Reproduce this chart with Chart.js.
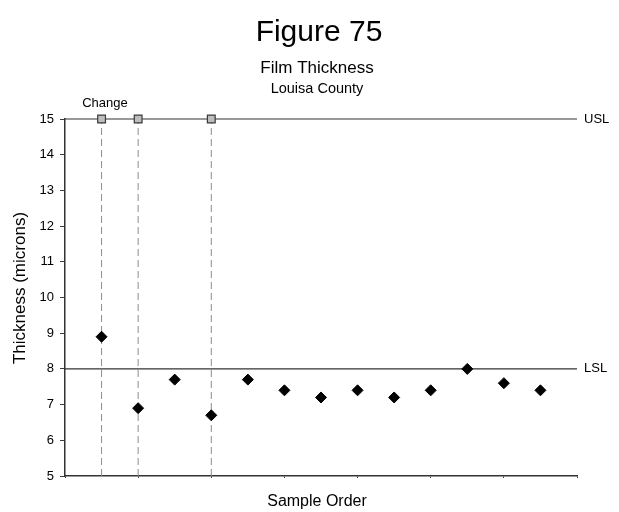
<!DOCTYPE html>
<html>
<head>
<meta charset="utf-8">
<script src="https://cdn.jsdelivr.net/npm/chart.js@4/dist/chart.umd.min.js"></script>
<style>
  html, body { margin: 0; padding: 0; background: #fff; }
  #wrap { width: 619px; height: 512px; }
</style>
</head>
<body>
<div id="wrap"><canvas id="myChart" width="619" height="512"></canvas></div>
<script>
// data
var sampleOrder = [1, 2, 3, 4, 5, 6, 7, 8, 9, 10, 11, 12, 13];
var thickness = [8.9, 6.9, 7.7, 6.7, 7.7, 7.4, 7.2, 7.4, 7.2, 7.4, 8.0, 7.6, 7.4];
var changeAt = [1, 2, 4];
var usl = 15;
var lsl = 8;
var yTicks = [5, 6, 7, 8, 9, 10, 11, 12, 13, 14, 15];

var font = "'Liberation Sans', Arial, sans-serif";

var points = sampleOrder.map(function (x, i) { return { x: x, y: thickness[i] }; });

var datasets = [];
datasets.push({
    type: "scatter",
    label: "Thickness",
    data: points,
    pointStyle: "rectRot",
    pointRadius: 5.5,
    backgroundColor: "#000",
    borderColor: "#000",
    borderWidth: 1,
    clip: false,
    order: 1
});
datasets.push({
    type: "scatter",
    label: "Change",
    data: changeAt.map(function (x) { return { x: x, y: usl }; }),
    pointStyle: "rect",
    pointRadius: 5.5,
    backgroundColor: "#bdbdbd",
    borderColor: "#3a3a3a",
    borderWidth: 1.2,
    clip: false,
    order: 0
});
// dashed change lines
changeAt.forEach(function (x) {
    datasets.push({
        type: "line",
        data: [{ x: x, y: 5 }, { x: x, y: usl }],
        borderColor: "#8c8c8c",
        borderWidth: 1,
        borderDash: [7, 4],
        pointRadius: 0,
        order: 3
    });
});
// spec limits
[usl, lsl].forEach(function (v) {
    datasets.push({
        type: "line",
        data: [{ x: 0, y: v }, { x: 14, y: v }],
        borderColor: "#333",
        borderWidth: 1.2,
        pointRadius: 0,
        clip: false,
        order: 2
    });
});

var textPlugin = {
    id: "texts",
    afterDraw: function (chart) {
        var ctx = chart.ctx;
        var ys = chart.scales.y, area = chart.chartArea;
        ctx.save();
        ctx.fillStyle = "#000";
        ctx.textAlign = "center";
        ctx.textBaseline = "alphabetic";
        ctx.font = "30px " + font;
        ctx.fillText("Figure 75", 319, 41);
        ctx.font = "17px " + font;
        ctx.fillText("Film Thickness", 317, 73);
        ctx.font = "14.5px " + font;
        ctx.fillText("Louisa County", 317, 93);
        ctx.font = "13px " + font;
        ctx.fillText("Change", 105, 107);
        ctx.textAlign = "left";
        ctx.textBaseline = "middle";
        ctx.fillText("USL", area.right + 7, ys.getPixelForValue(usl));
        ctx.fillText("LSL", area.right + 7, ys.getPixelForValue(lsl));
        ctx.textAlign = "center";
        ctx.font = "16px " + font;
        ctx.fillText("Sample Order", 317, 502);
        ctx.translate(20, 288);
        ctx.rotate(-Math.PI / 2);
        ctx.font = "17px " + font;
        ctx.fillText("Thickness (microns)", 0, 0);
        ctx.restore();
    }
};

var myChart = new Chart(document.getElementById("myChart"), {
    type: "scatter",
    data: { datasets: datasets },
    options: {
        responsive: false,
        animation: false,
        layout: { padding: { top: 119, right: 42, left: 0, bottom: 0 } },
        plugins: {
            legend: { display: false },
            tooltip: { enabled: false }
        },
        scales: {
            x: {
                type: "linear",
                min: 0,
                max: 14,
                afterFit: function (s) { s.height = 36; },
                ticks: { stepSize: 2, callback: function () { return ""; } },
                grid: { drawOnChartArea: false, drawTicks: true, tickLength: 2, color: "#404040" },
                border: { color: "#333", width: 1.5 }
            },
            y: {
                type: "linear",
                min: 5,
                max: 15,
                afterFit: function (s) { s.width = 65; },
                afterBuildTicks: function (s) { s.ticks = yTicks.map(function (v) { return { value: v }; }); },
                ticks: { color: "#000", padding: 6, font: { family: font, size: 13 } },
                grid: { drawOnChartArea: false, drawTicks: true, tickLength: 5, color: "#404040" },
                border: { color: "#333", width: 1.5 }
            }
        }
    },
    plugins: [textPlugin]
});
</script>
</body>
</html>
